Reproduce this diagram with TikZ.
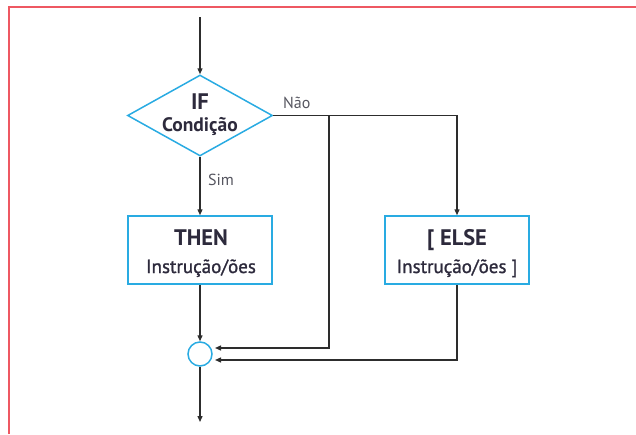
\documentclass[tikz,border=0pt]{standalone}
\usepackage{fontspec}
\setmainfont{PT Sans}
\newfontfamily\medfont[FakeBold=1.2]{PT Sans}
\usetikzlibrary{shapes.geometric,arrows.meta,calc}
\definecolor{frame}{RGB}{238,88,98}
\definecolor{shape}{RGB}{41,171,226}
\definecolor{ink}{RGB}{45,42,60}
\definecolor{wire}{RGB}{45,45,45}
\definecolor{lbl}{RGB}{85,85,95}
\tikzset{
  wirearrow/.style={draw=wire, line width=1.3pt, -{Triangle[length=6pt,width=5pt]}},
  blockbox/.style={draw=shape, line width=1.5pt, minimum width=144pt, minimum height=68pt, inner sep=0pt},
  decbox/.style={draw=shape, line width=1.5pt, diamond, minimum width=145pt, minimum height=81pt, inner sep=0pt},
  mergebox/.style={draw=shape, line width=1.5pt, circle, minimum size=24pt, inner sep=0pt},
  headtxt/.style={font=\fontsize{22.5}{25}\selectfont\bfseries, text=ink, inner sep=0pt, anchor=base},
  subtxt/.style={font=\fontsize{19}{21}\selectfont\medfont, text=ink, inner sep=0pt, anchor=base},
  condtxt/.style={font=\fontsize{19.5}{21}\selectfont\bfseries, text=ink, inner sep=0pt, anchor=base},
  edgetxt/.style={font=\fontsize{16}{18}\selectfont, text=lbl, inner sep=0pt, anchor=base west}
}
\begin{document}
\begin{tikzpicture}[x=1pt,y=-1pt]
\useasboundingbox (0,0) rectangle (636,434);
% frame
\draw[frame, line width=2pt] (9,434) -- (9,7) -- (636,7);
% shapes
\node[decbox] (if) at (200,115.5) {};
\node[blockbox] (then) at (200,250) {};
\node[blockbox] (else) at (457,250) {};
\node[mergebox] (merge) at (200,354) {};
% texts
\node[headtxt] (iftxt) at (200,109) {IF};
\node[condtxt] (condtxt) at (200,131) {Condição};
\node[headtxt] (thentxt) at (201,245) {THEN};
\node[subtxt] (thensub) at (201,273) {Instrução/ões};
\node[headtxt] (elsetxt) at (457,245) {[ ELSE};
\node[subtxt] (elsesub) at (457,273) {Instrução/ões ]};
% coordinates
\coordinate (start) at (200,17);
\coordinate (finish) at (200,422);
\coordinate (split) at (329,115.5);
\coordinate (nobend) at (329,348);
\coordinate (noin) at (215,348);
\coordinate (elbend) at (457,360);
\coordinate (elin) at (215,360);
% connectors
\draw[wirearrow] (start) -- (if.north);
\draw[wirearrow] (if.south) -- (then.north);
\draw[wirearrow] (if.east) -- (split) -| (else.north);
\draw[wirearrow] (split) -- (nobend) -- (noin);
\draw[wirearrow] (then.south) -- (merge.north);
\draw[wirearrow] (else.south) -- (elbend) -- (elin);
\draw[wirearrow] (merge.south) -- (finish);
% labels
\node[edgetxt] (nao) at (283,108) {Não};
\node[edgetxt] (sim) at (208,185) {Sim};
\end{tikzpicture}
\end{document}
